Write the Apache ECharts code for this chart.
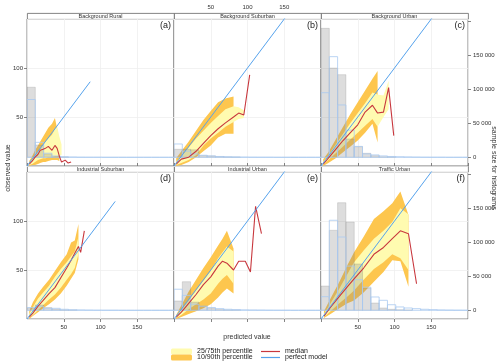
<!DOCTYPE html>
<html>
<head>
<meta charset="utf-8">
<script src="https://cdn.jsdelivr.net/npm/echarts@6/dist/echarts.min.js"></script>
<style>
  html, body { margin: 0; padding: 0; background: #fff; }
  #chart { width: 500px; height: 363px; }
</style>
</head>
<body>
<div id="chart"></div>
<script>
// panels
const sites = ['Background Rural', 'Background Suburban', 'Background Urban', 'Industrial Suburban', 'Industrial Urban', 'Traffic Urban']
const letters = ['(a)', '(b)', '(c)', '(d)', '(e)', '(f)']

// predicted value of each quantile bin, one list per panel
const predBins = [
  [3, 7, 11, 15, 18, 22, 25, 29, 34, 38, 41, 44, 47, 52, 56, 60],
  [3, 10, 20, 30, 40, 50, 60, 70, 81, 88, 95, 103],
  [3, 10, 20, 30, 40, 50, 60, 70, 77, 85, 92, 99],
  [3, 8, 15, 22, 30, 38, 46, 54, 60, 65, 70, 73, 78],
  [3, 10, 20, 30, 40, 50, 60, 66, 72, 81, 88, 97, 104, 111, 119],
  [4, 13, 25, 36, 45, 58, 72, 85, 97, 108, 119, 130]
]
// observed quantiles per bin (bins with too few values have no band)
const q10 = [
  [0, 1, 1, 2, 3, 4, 4, 5, 6, 6, 6, 5],
  [0, 1, 4, 9, 15, 21, 29, 33, 33],
  [0, 3, 8, 14, 20, 26, 34, 43, 24],
  [0, 3, 7, 11, 15, 20, 26, 34, 41, 47, 61],
  [0, 2, 5, 8, 11, 15, 22, 27, 31, 26],
  [1, 5, 11, 16, 19, 27, 38, 48, 60, 59, 33]
]
const q25 = [
  [1, 2, 4, 6, 7, 8, 8, 9, 9, 10, 10, 11, 11],
  [1, 3, 6, 11, 21, 28, 34, 40, 45, 48, 49],
  [1, 6, 13, 20, 27, 34, 41, 48, 40, 50, 58],
  [1, 4, 9, 14, 20, 25, 32, 40, 46, 52, 66],
  [1, 4, 10, 15, 20, 26, 36, 41, 45, 36],
  [2, 8, 16, 23, 29, 40, 51, 58, 66, 62, 50]
]
const q50 = [
  [2, 5, 9, 12, 16, 17, 18, 20, 16, 21, 18, 10, 4, 6, 3, 4],
  [2, 7, 9, 15, 23, 31, 38, 44, 50, 54, 52, 93],
  [2, 8, 17, 26, 34, 42, 55, 62, 54, 55, 80, 31],
  [2, 6, 13, 19, 26, 32, 42, 52, 60, 67, 74, 68, 90],
  [2, 7, 16, 25, 35, 43, 54, 59, 57, 50, 59, 59, 48, 115, 87],
  [3, 12, 23, 33, 41, 52, 66, 73, 82, 90, 87, 36]
]
const q75 = [
  [3, 7, 11, 15, 18, 22, 25, 28, 32, 38, 40, 30, 22],
  [4, 10, 19, 28, 36, 44, 51, 58, 61, 60, 57],
  [4, 11, 22, 33, 44, 54, 64, 75, 73, 72, 87],
  [5, 12, 21, 27, 34, 43, 51, 58, 64, 69, 84],
  [3, 9, 19, 29, 39, 49, 62, 68, 74, 69],
  [5, 16, 31, 46, 58, 70, 82, 90, 99, 113, 107]
]
const q90 = [
  [5, 10, 16, 21, 25, 30, 34, 39, 43, 49, 38, 14],
  [8, 15, 25, 36, 47, 56, 65, 69, 71],
  [7, 14, 27, 40, 53, 65, 77, 89, 97],
  [8, 17, 26, 33, 40, 49, 58, 66, 78, 80, 97],
  [4, 14, 28, 40, 52, 63, 75, 82, 90, 72],
  [8, 21, 38, 55, 68, 84, 102, 110, 118, 130, 106]
]
// perfect model line runs up to the largest value
const perfectMax = [86, 200, 200, 120, 200, 200]

// histograms (counts per bin of width binWidth starting at 0)
const binWidth = 11.3
const histPred = [
  [103000, 18000, 5000, 1000, 300],
  [11800, 11800, 11000, 2500, 2000, 800, 300, 100],
  [189700, 131300, 121500, 26900, 15600, 5900, 2400, 800, 300],
  [3000, 7800, 4000, 1500, 500, 200],
  [13700, 42000, 12000, 6000, 3000, 1000, 400, 200],
  [35700, 117600, 158200, 129800, 68100, 32800, 10700, 3400, 1500, 700, 300]
]
const histObs = [
  [85000, 22000, 6000, 2000, 800, 400, 200, 100, 100, 0, 0, 0, 0, 0, 0, 0, 0, 0],
  [19600, 9000, 5000, 3000, 2000, 1200, 800, 500, 300, 200, 100, 100, 0, 0, 0, 0, 0, 0],
  [95000, 148000, 77000, 40000, 16000, 5000, 3500, 2000, 1200, 800, 500, 300, 200, 100, 100, 0, 0, 0],
  [4000, 6000, 3000, 2900, 1500, 800, 500, 300, 200, 100, 100, 0, 0, 0, 0, 0, 0, 0],
  [31000, 22000, 9000, 6000, 4000, 2500, 1500, 1000, 600, 400, 300, 200, 100, 100, 0, 0, 0, 0],
  [20000, 132400, 107800, 65000, 45000, 34000, 19600, 14700, 8200, 4900, 3400, 2400, 1500, 900, 500, 300, 200, 100]
]

const FONT = 'Liberation Sans, Arial, sans-serif'
const colLeft = [27, 174, 321]
const rowTop = [19, 172]
const panelW = 147
const panelH = 147
const stripH = 6
const frame = '#666'
const gridLine = '#efefef'
const C = {
  outer: '#fdc64e',
  inner: '#fffbb0',
  median: '#c8373d',
  perfect: '#55a2ec',
  histFill: 'rgba(128,128,128,0.27)',
  histLine: 'rgba(110,110,110,0.35)',
  obsLine: '#a9c9f0'
}

// "150 000" style, top tick left unlabelled like the original
const countLabel = v => (v > 175000 ? '' : String(v).replace(/\B(?=(\d{3})+(?!\d))/g, ' '))

// filled band between two quantiles
function bandSeries (i, lo, hi, name, color) {
  const pts = []
  predBins[i].forEach((x, k) => {
    if (lo[k] != null && hi[k] != null) pts.push([x, lo[k], hi[k]])
  })
  return {
    type: 'custom',
    name,
    xAxisIndex: i,
    yAxisIndex: 2 * i,
    itemStyle: { color },
    data: pts,
    encode: { x: 0, y: [1, 2] },
    silent: true,
    renderItem (params, api) {
      if (params.dataIndex !== 0) return null
      const upper = pts.map(p => api.coord([p[0], p[2]]))
      const lower = pts.map(p => api.coord([p[0], p[1]])).reverse()
      return { type: 'polygon', shape: { points: upper.concat(lower) }, style: { fill: color } }
    }
  }
}

// histogram bars on the count axis
function histSeries (i, counts, style) {
  return {
    type: 'custom',
    xAxisIndex: i,
    yAxisIndex: 2 * i + 1,
    clip: true,
    silent: true,
    data: counts.map((c, k) => [k * binWidth, (k + 1) * binWidth, c]),
    encode: { x: [0, 1], y: 2 },
    renderItem (params, api) {
      const p0 = api.coord([api.value(0), 0])
      const p1 = api.coord([api.value(1), api.value(2)])
      return {
        type: 'rect',
        shape: { x: p0[0], y: p1[1], width: p1[0] - p0[0], height: p0[1] - p1[1] },
        style
      }
    }
  }
}

const grid = []
const xAxis = []
const yAxis = []
const series = []
const graphic = []

sites.forEach((site, i) => {
  const col = i % 3
  const row = Math.floor(i / 3)
  const top = rowTop[row]
  const left = colLeft[col]
  const tick = { length: 3, lineStyle: { color: frame, width: 0.8 } }
  const label = { fontSize: 6, color: '#333', fontFamily: FONT, showMinLabel: false, showMaxLabel: false }

  grid.push({ left, top, width: panelW, height: panelH, show: true, borderColor: frame, borderWidth: 0.8 })

  xAxis.push({
    type: 'value', gridIndex: i, min: 0, max: 200, interval: 50,
    position: row === 0 ? 'top' : 'bottom',
    offset: row === 0 ? stripH : 0,
    axisLine: { show: false },
    axisTick: { show: true, ...tick },
    axisLabel: { ...label, margin: row === 0 ? 3 : 5, show: row === 0 ? col === 1 : col !== 1 },
    splitLine: { show: true, lineStyle: { color: gridLine, width: 0.8 } }
  })
  yAxis.push({
    type: 'value', gridIndex: i, min: 0, max: 150, interval: 50, position: 'left',
    axisLine: { show: false },
    axisTick: { show: col === 0, ...tick },
    axisLabel: { ...label, margin: 4, show: col === 0 },
    splitLine: { show: true, lineStyle: { color: gridLine, width: 0.8 } }
  })
  yAxis.push({
    type: 'value', gridIndex: i, min: -12800, max: 203400, minInterval: 50000, maxInterval: 50000,
    position: 'right',
    axisLine: { show: false },
    axisTick: { show: col === 2, ...tick },
    axisLabel: { ...label, margin: 5, show: col === 2, formatter: countLabel },
    splitLine: { show: false }
  })

  series.push(bandSeries(i, q10[i], q90[i], '10/90th percentile', C.outer))
  series.push(bandSeries(i, q25[i], q75[i], '25/75th percentile', C.inner))
  series.push(histSeries(i, histPred[i], { fill: C.histFill, stroke: C.histLine, lineWidth: 0.6 }))
  series.push(histSeries(i, histObs[i], { fill: 'none', stroke: C.obsLine, lineWidth: 0.8 }))
  series.push({
    type: 'line', name: 'median', xAxisIndex: i, yAxisIndex: 2 * i,
    data: predBins[i].map((x, k) => [x, q50[i][k]]),
    symbol: 'none', silent: true,
    itemStyle: { color: C.median },
    lineStyle: { color: C.median, width: 1.1 }
  })
  series.push({
    type: 'line', name: 'perfect model', xAxisIndex: i, yAxisIndex: 2 * i,
    data: [[0, 0], [perfectMax[i], perfectMax[i]]],
    symbol: 'none', silent: true,
    itemStyle: { color: C.perfect },
    lineStyle: { color: C.perfect, width: 1 }
  })

  // strip with site name
  graphic.push({
    type: 'rect', left, top: top - stripH, silent: true,
    shape: { width: panelW, height: stripH },
    style: { fill: '#fff', stroke: frame, lineWidth: 0.8 }
  })
  graphic.push({
    type: 'text', x: left + panelW / 2, y: top - stripH / 2, silent: true,
    style: { text: site, fontSize: 5.5, fontFamily: FONT, fill: '#333', align: 'center', verticalAlign: 'middle' }
  })
  graphic.push({
    type: 'text', x: left + panelW - 3, y: top + 6.5, silent: true, z: 10,
    style: { text: letters[i], fontSize: 9, fontFamily: FONT, fill: '#222', align: 'right', verticalAlign: 'middle' }
  })
})

// axis titles
graphic.push({
  type: 'text', x: 8, y: 168, rotation: Math.PI / 2, silent: true,
  style: { text: 'observed value', fontSize: 7, fontFamily: FONT, fill: '#333', align: 'center', verticalAlign: 'middle' }
})
graphic.push({
  type: 'text', x: 247, y: 337, silent: true,
  style: { text: 'predicted value', fontSize: 7, fontFamily: FONT, fill: '#333', align: 'center', verticalAlign: 'middle' }
})
graphic.push({
  type: 'text', x: 494, y: 168, rotation: -Math.PI / 2, silent: true,
  style: { text: 'sample size for histograms', fontSize: 7, fontFamily: FONT, fill: '#333', align: 'center', verticalAlign: 'middle' }
})

// one legend box per entry so they sit in two tight columns
const legendText = { fontSize: 7, fontFamily: FONT, color: '#222' }
const legendItem = (name, left, top, icon, h, w) => ({
  data: [name], left, top, padding: 0, icon, itemWidth: w, itemHeight: h,
  itemGap: 0, selectedMode: false, textStyle: legendText
})

const chart = echarts.init(document.getElementById('chart'), null, { renderer: 'canvas' })
chart.setOption({
  animation: false,
  textStyle: { fontFamily: FONT },
  grid,
  xAxis,
  yAxis,
  series,
  graphic,
  legend: [
    legendItem('25/75th percentile', 171, 348, 'roundRect', 6, 21),
    legendItem('10/90th percentile', 171, 354, 'roundRect', 6, 21),
    legendItem('median', 261, 348, 'rect', 1.2, 19),
    legendItem('perfect model', 261, 354, 'rect', 1.2, 19)
  ]
})
</script>
</body>
</html>
